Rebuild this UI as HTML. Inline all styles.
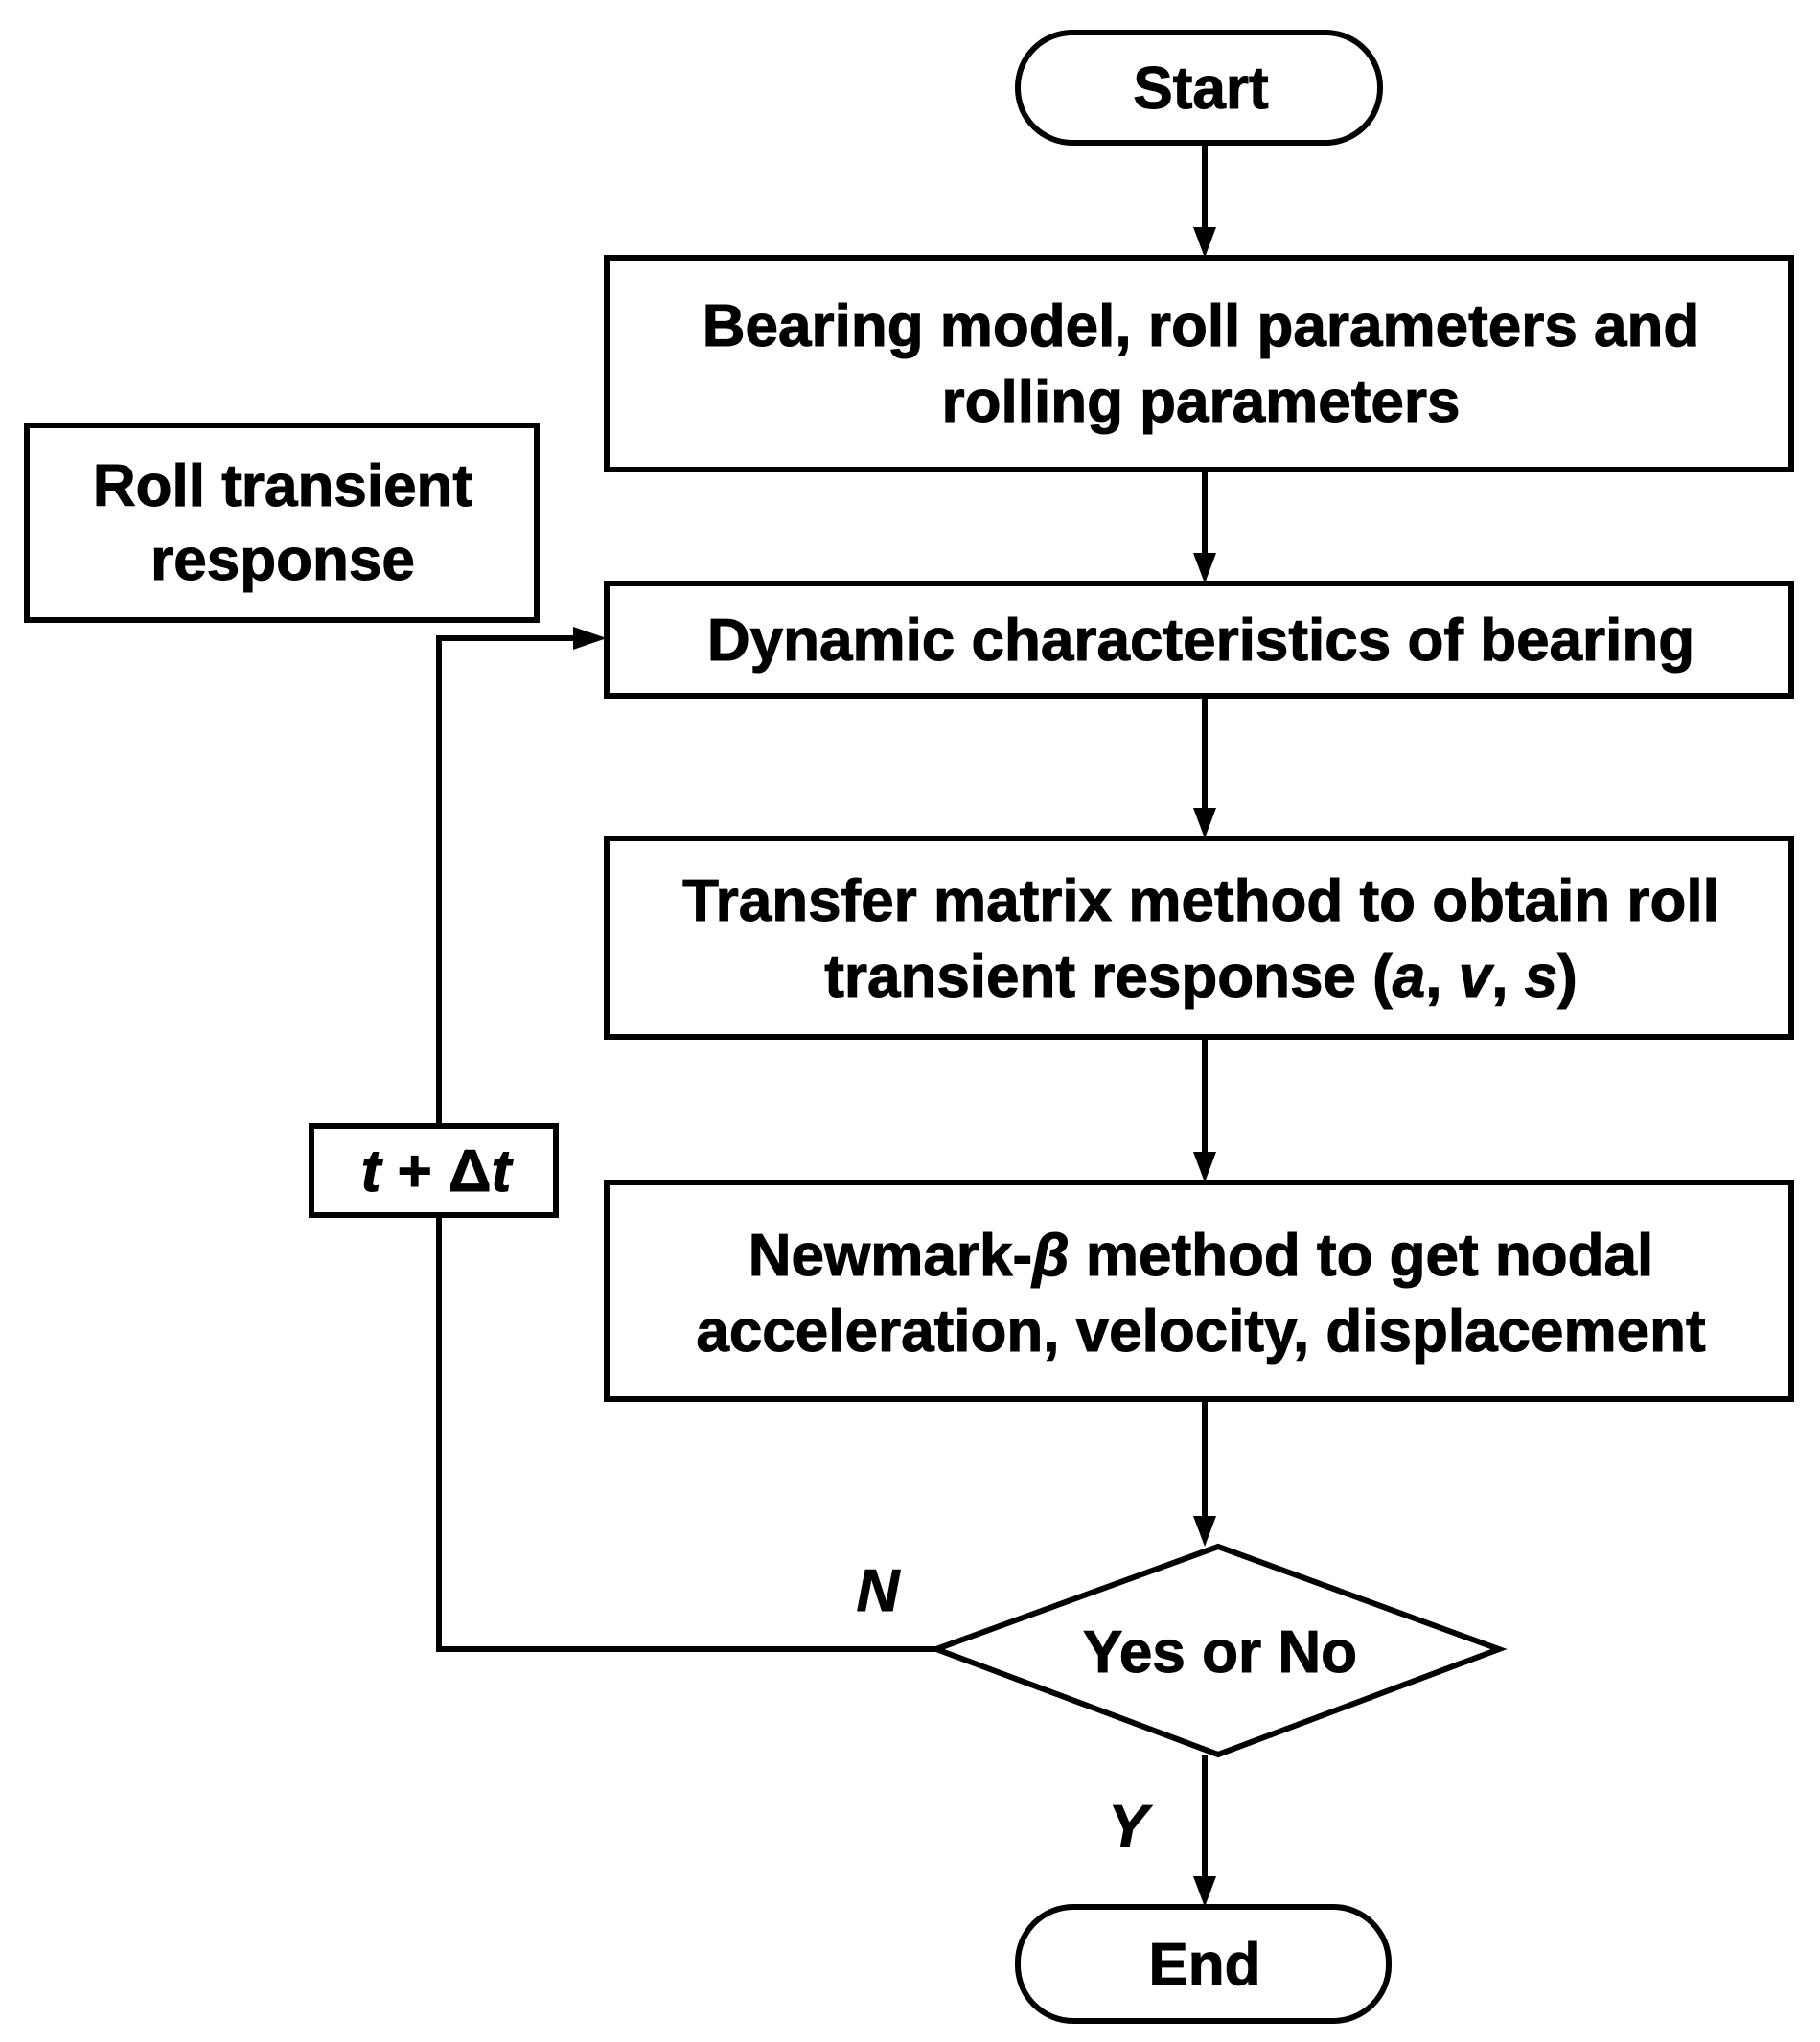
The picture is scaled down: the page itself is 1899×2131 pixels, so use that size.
<!DOCTYPE html>
<html><head><meta charset="utf-8"><style>html,body{margin:0;padding:0;background:#fff}svg{display:block}</style></head>
<body>
<svg width="1899" height="2131" viewBox="0 0 1899 2131" xmlns="http://www.w3.org/2000/svg" font-family="'Liberation Sans', Arial, sans-serif" font-weight="bold" fill="#000">
<g stroke="#000" stroke-width="6" fill="none">
<rect x="1062" y="34" width="378" height="115" rx="57"/>
<rect x="633" y="269" width="1236" height="221"/>
<rect x="28" y="444" width="532" height="203"/>
<rect x="633" y="609" width="1236" height="117"/>
<rect x="633" y="875" width="1236" height="207"/>
<rect x="633" y="1234" width="1236" height="226"/>
<polygon points="977,1721 1271,1614 1564,1721 1271,1831"/>
<rect x="1062" y="1990" width="387" height="119" rx="58"/>
<rect x="325" y="1175" width="255" height="93"/>
<polyline points="977,1721 458,1721 458,1268"/>
<polyline points="458,1175 458,666 600,666"/>
<line x1="1257" y1="149" x2="1257" y2="240"/>
<line x1="1257" y1="490" x2="1257" y2="580"/>
<line x1="1257" y1="726" x2="1257" y2="846"/>
<line x1="1257" y1="1082" x2="1257" y2="1205"/>
<line x1="1257" y1="1460" x2="1257" y2="1585"/>
<line x1="1257" y1="1831" x2="1257" y2="1961"/>
</g>
<g>
<path d="M1245,237 L1269,237 L1257,269 z"/>
<path d="M1245,577 L1269,577 L1257,609 z"/>
<path d="M1245,843 L1269,843 L1257,875 z"/>
<path d="M1245,1202 L1269,1202 L1257,1234 z"/>
<path d="M1245,1582 L1269,1582 L1257,1614 z"/>
<path d="M1245,1958 L1269,1958 L1257,1990 z"/>
<path d="M598,654 L598,678 L633,666 z"/>
</g>
<g font-size="62" text-anchor="middle" stroke="#000" stroke-width="1">
<text x="1253" y="361">Bearing model, roll parameters and</text>
<text x="1253" y="440">rolling parameters</text>
<text x="295" y="528">Roll transient</text>
<text x="295" y="605">response</text>
<text x="1253" y="689">Dynamic characteristics of bearing</text>
<text x="1253" y="961">Transfer matrix method to obtain roll</text>
<text x="1253" y="1040">transient response (<tspan font-style="italic">a</tspan>, <tspan font-style="italic">v</tspan>, <tspan font-style="italic">s</tspan>)</text>
<text x="1253" y="1331">Newmark-<tspan font-style="italic">β</tspan> method to get nodal</text>
<text x="1253" y="1410">acceleration, velocity, displacement</text>
<text x="1273" y="1745">Yes or No</text>
<text x="1257" y="2071">End</text>
<text x="1253" y="113">Start</text>
<text x="455" y="1243"><tspan font-style="italic">t</tspan> + Δ<tspan font-style="italic">t</tspan></text>
<text x="916" y="1681" font-style="italic">N</text>
<text x="1177" y="1927" font-style="italic">Y</text>
</g>
</svg>
</body></html>
